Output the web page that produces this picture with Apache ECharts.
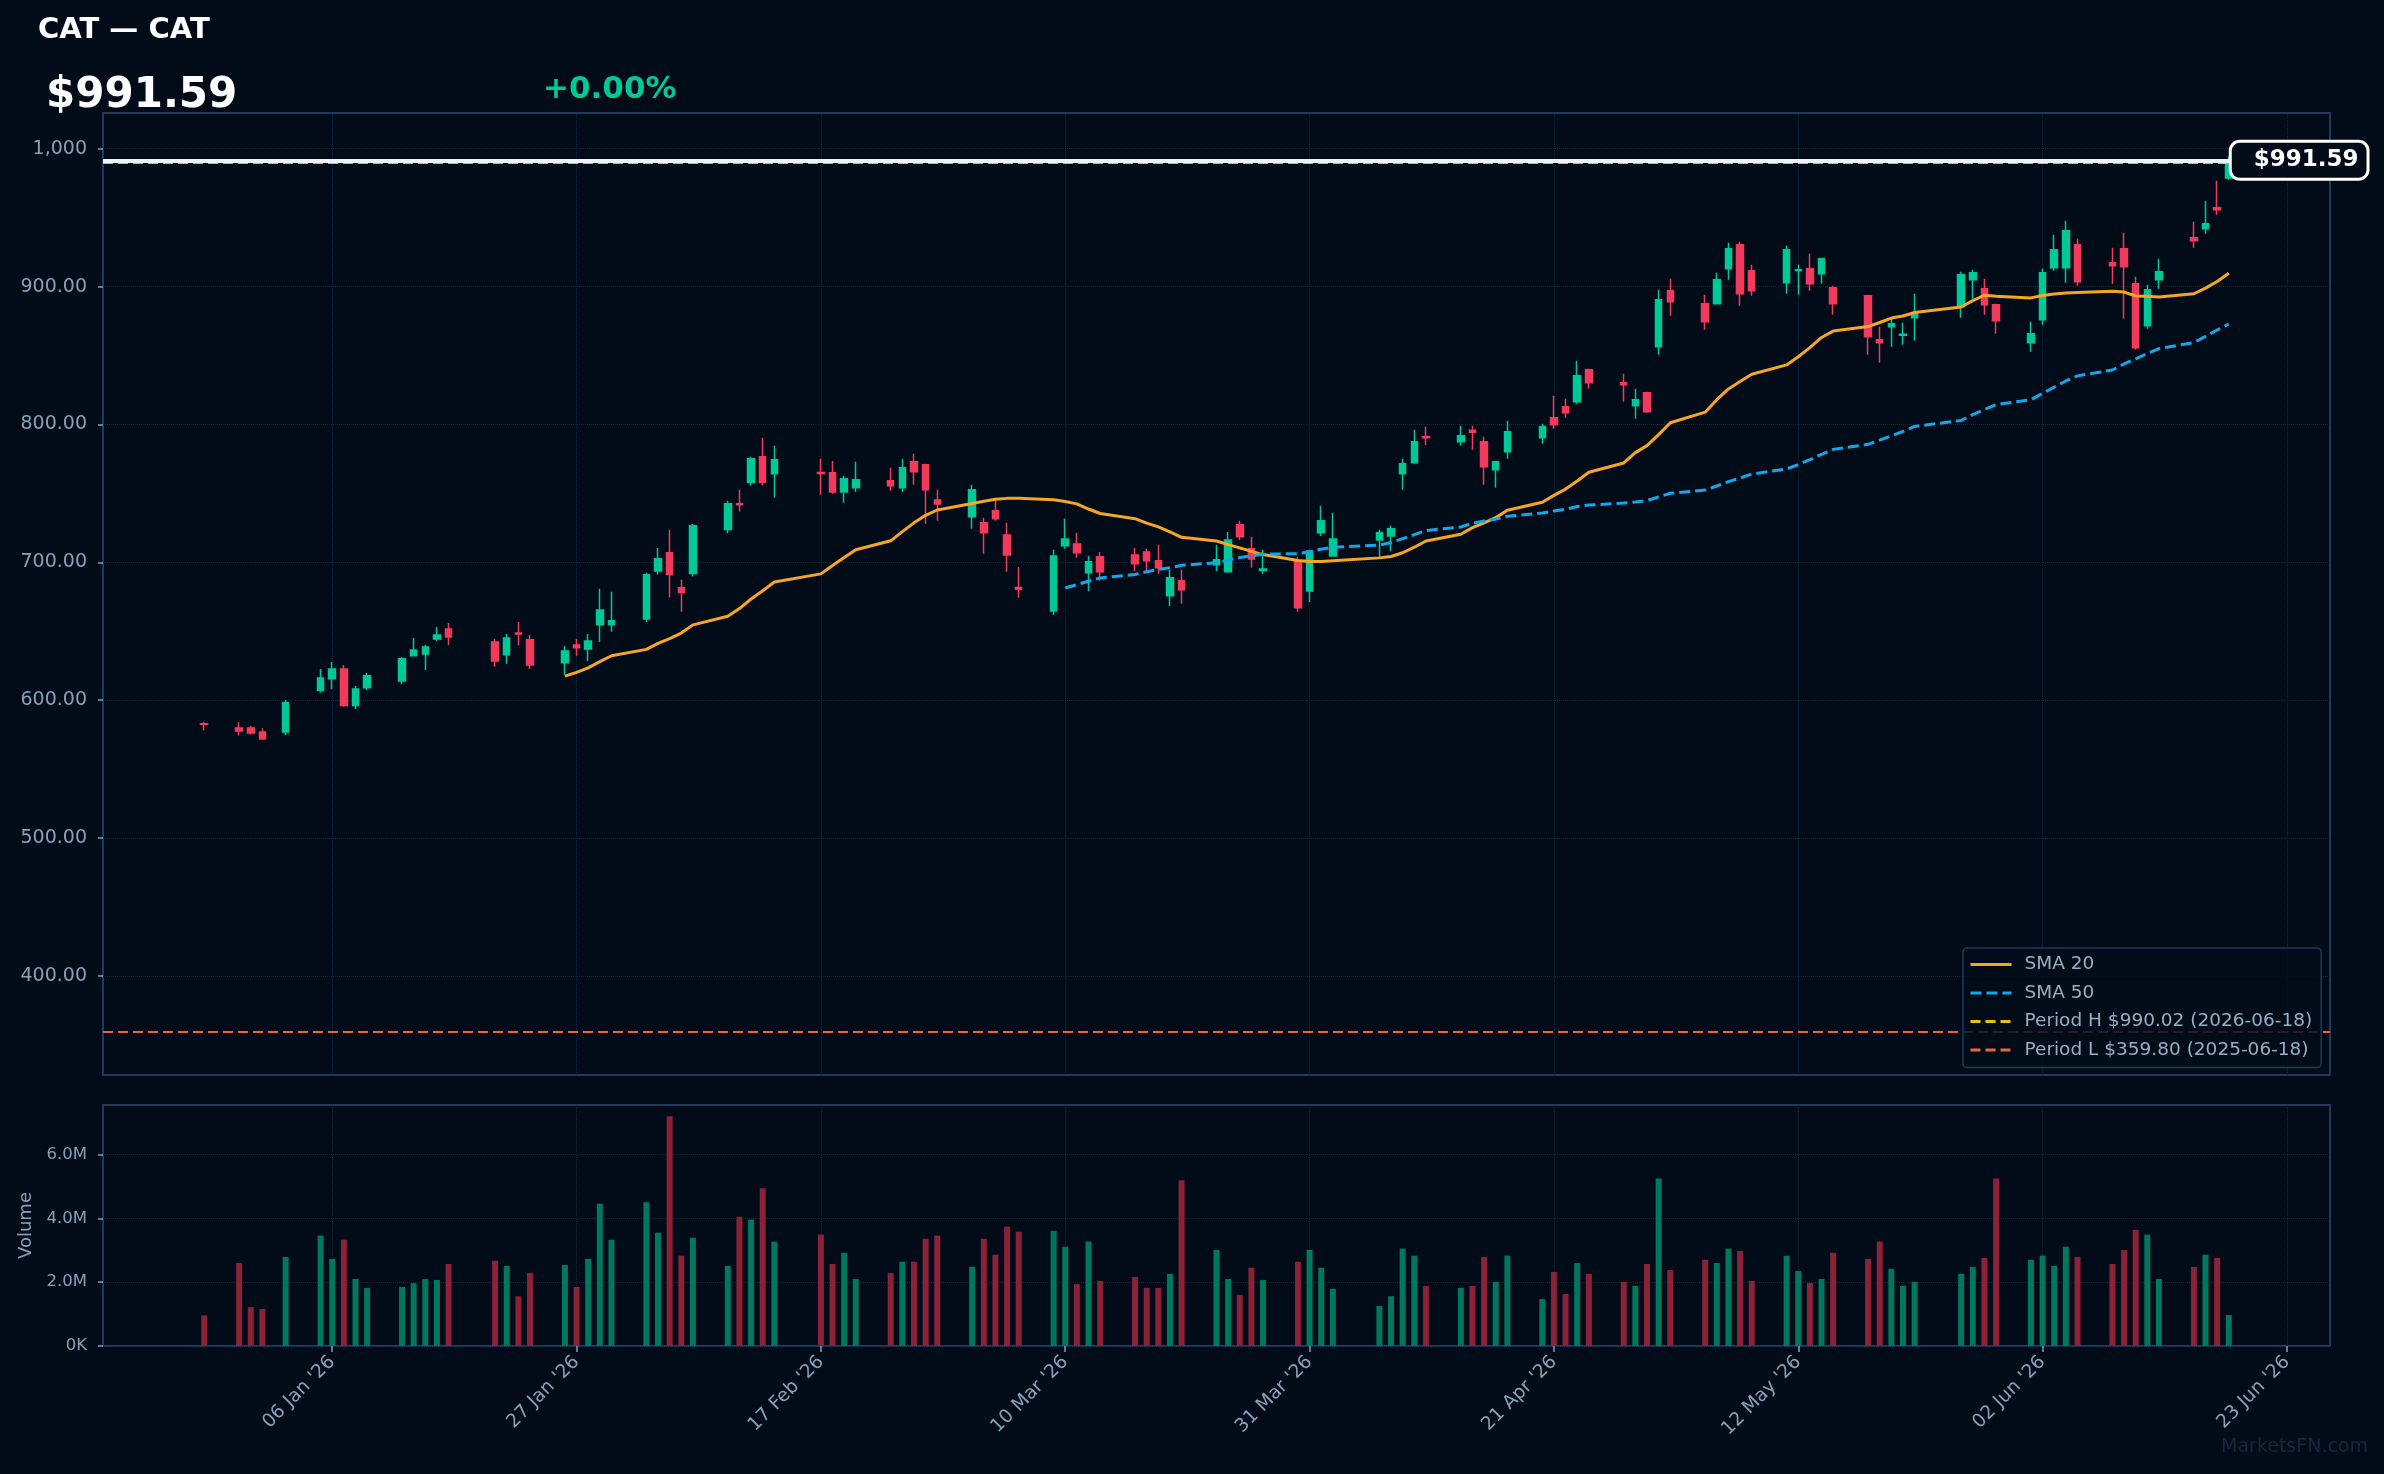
<!DOCTYPE html>
<html>
<head>
<meta charset="utf-8">
<script src="https://cdn.jsdelivr.net/npm/echarts@6/dist/echarts.min.js"></script>
<style>
html,body{margin:0;padding:0;background:#020c18;}
#chart{width:2384px;height:1474px;}
</style>
</head>
<body>
<div id="chart"></div>
<script>
// ---------------- data ----------------
const ticker = 'CAT';
const dates = [
'2025-12-26','2025-12-29','2025-12-30','2025-12-31','2026-01-02','2026-01-05','2026-01-06','2026-01-07','2026-01-08','2026-01-09',
'2026-01-12','2026-01-13','2026-01-14','2026-01-15','2026-01-16','2026-01-20','2026-01-21','2026-01-22','2026-01-23','2026-01-26',
'2026-01-27','2026-01-28','2026-01-29','2026-01-30','2026-02-02','2026-02-03','2026-02-04','2026-02-05','2026-02-06','2026-02-09',
'2026-02-10','2026-02-11','2026-02-12','2026-02-13','2026-02-17','2026-02-18','2026-02-19','2026-02-20','2026-02-23','2026-02-24',
'2026-02-25','2026-02-26','2026-02-27','2026-03-02','2026-03-03','2026-03-04','2026-03-05','2026-03-06','2026-03-09','2026-03-10',
'2026-03-11','2026-03-12','2026-03-13','2026-03-16','2026-03-17','2026-03-18','2026-03-19','2026-03-20','2026-03-23','2026-03-24',
'2026-03-25','2026-03-26','2026-03-27','2026-03-30','2026-03-31','2026-04-01','2026-04-02','2026-04-06','2026-04-07','2026-04-08',
'2026-04-09','2026-04-10','2026-04-13','2026-04-14','2026-04-15','2026-04-16','2026-04-17','2026-04-20','2026-04-21','2026-04-22',
'2026-04-23','2026-04-24','2026-04-27','2026-04-28','2026-04-29','2026-04-30','2026-05-01','2026-05-04','2026-05-05','2026-05-06',
'2026-05-07','2026-05-08','2026-05-11','2026-05-12','2026-05-13','2026-05-14','2026-05-15','2026-05-18','2026-05-19','2026-05-20',
'2026-05-21','2026-05-22','2026-05-26','2026-05-27','2026-05-28','2026-05-29','2026-06-01','2026-06-02','2026-06-03','2026-06-04',
'2026-06-05','2026-06-08','2026-06-09','2026-06-10','2026-06-11','2026-06-12','2026-06-15','2026-06-16','2026-06-17','2026-06-18'
];
const opens = [
583.0,579.9,579.9,577.0,577.0,607.0,615.5,622.7,596.1,609.0,
614.0,632.2,633.6,644.5,651.7,642.3,632.9,648.8,643.8,627.1,
640.1,637.2,654.7,654.7,659.0,693.8,706.9,681.5,691.9,723.8,
742.5,757.9,776.6,764.2,765.2,764.9,751.1,754.1,759.1,754.1,
772.9,770.7,745.3,733.0,728.7,737.4,719.9,681.8,664.8,712.0,
713.4,692.4,704.0,705.4,707.6,701.1,675.7,686.6,698.2,693.1,
727.2,709.8,694.1,700.4,679.3,721.4,704.7,716.3,719.2,764.2,
772.2,791.1,787.4,795.9,787.4,767.1,780.2,790.3,804.8,812.8,
816.4,839.7,830.2,813.5,823.0,856.3,897.0,887.5,887.5,913.0,
930.3,911.5,902.8,911.7,913.0,909.3,899.2,893.3,861.4,870.9,
864.8,877.4,885.4,905.0,898.4,886.8,859.2,875.9,913.7,913.7,
930.3,917.3,927.4,902.0,871.6,905.0,935.4,942.0,957.2,978.7
];
const highs = [
584.2,584.0,581.4,579.7,600.2,622.7,627.8,625.6,610.4,619.8,
631.4,645.2,640.1,653.2,656.1,644.5,648.1,656.8,647.4,639.4,
644.5,648.1,680.8,678.6,692.4,710.5,723.6,687.3,727.9,744.6,
752.6,776.6,790.3,784.5,775.1,773.6,762.8,772.9,768.6,775.1,
778.7,771.5,752.6,756.2,732.3,745.3,728.7,696.7,709.1,731.6,
721.4,704.7,707.6,710.5,709.8,712.7,694.6,694.6,712.7,722.1,
730.1,718.5,709.1,703.8,709.1,741.0,735.9,723.6,726.5,775.1,
796.1,798.3,799.0,799.0,791.1,773.6,802.7,800.5,820.8,818.6,
846.2,840.4,836.8,825.9,823.7,897.7,905.7,894.1,910.0,931.8,
932.5,915.8,929.6,915.8,923.8,920.9,900.6,894.1,870.9,877.4,
873.7,894.8,910.8,912.2,905.7,887.5,874.5,912.9,937.6,947.8,
934.7,928.2,939.1,907.1,901.3,920.2,947.1,962.3,976.8,994.5
];
const lows = [
578.0,574.4,575.1,571.5,574.8,605.6,608.2,595.2,593.7,607.5,
611.8,631.8,622.0,643.0,640.1,624.2,626.4,640.1,622.7,618.4,
632.2,628.5,642.3,649.6,656.8,691.2,674.5,664.1,689.7,720.9,
736.9,755.8,755.8,746.8,749.0,749.7,743.2,751.1,751.9,751.1,
756.2,727.9,730.1,724.3,706.2,730.1,693.1,674.3,661.9,709.8,
703.3,679.3,686.6,693.8,692.4,691.7,668.4,669.9,693.8,692.4,
716.3,696.0,691.7,664.1,671.3,719.2,704.0,704.0,708.3,752.6,
771.5,785.2,784.5,781.6,756.2,754.1,775.1,786.0,796.9,804.8,
815.0,825.9,816.4,804.1,808.5,850.5,878.8,868.7,887.0,905.0,
886.1,893.3,894.8,894.1,897.0,902.0,879.6,850.5,844.7,856.3,
857.8,860.7,877.4,891.2,879.6,865.8,852.7,872.3,911.5,902.8,
900.6,902.0,876.7,854.2,869.4,898.4,928.2,938.3,952.1,977.5
];
const closes = [
582.5,577.7,576.3,571.9,598.1,616.2,622.7,596.1,608.2,617.7,
630.0,636.5,638.7,647.4,645.9,628.5,645.2,648.1,625.6,635.8,
638.0,643.0,665.5,657.6,691.0,702.6,691.2,678.1,726.5,742.5,
741.7,775.1,757.9,774.4,764.5,751.1,760.6,759.9,755.5,768.6,
765.7,752.6,742.4,752.6,721.4,731.6,705.4,680.5,704.7,717.0,
706.9,700.4,693.1,698.9,701.1,696.0,688.8,680.1,701.8,716.3,
718.5,702.5,695.1,667.0,708.3,730.1,717.0,721.4,724.3,771.5,
787.4,790.3,791.8,794.4,769.3,772.9,794.7,798.3,799.8,808.5,
835.3,830.2,828.8,817.9,809.2,890.4,889.0,874.5,905.0,927.4,
894.8,897.0,926.7,912.2,902.0,920.2,887.5,863.6,859.2,873.0,
865.5,881.0,908.6,910.0,886.8,875.2,865.8,910.0,926.7,940.5,
903.5,915.1,914.4,855.6,897.7,910.8,933.3,945.6,955.8,991.59
];
const volumesM = [
0.96,2.60,1.22,1.16,2.79,3.46,2.73,3.33,2.10,1.82,
1.85,1.97,2.10,2.07,2.57,2.67,2.51,1.56,2.29,2.54,
1.85,2.73,4.46,3.33,4.50,3.55,7.20,2.83,3.39,2.51,
4.05,3.96,4.94,3.27,3.49,2.57,2.92,2.10,2.29,2.64,
2.64,3.36,3.46,2.48,3.36,2.86,3.74,3.58,3.61,3.11,
1.94,3.27,2.04,2.16,1.82,1.82,2.26,5.19,3.01,2.10,
1.60,2.45,2.07,2.64,3.01,2.45,1.79,1.25,1.56,3.05,
2.83,1.88,1.82,1.88,2.79,2.01,2.83,1.47,2.32,1.63,
2.60,2.26,2.01,1.88,2.57,5.25,2.38,2.70,2.60,3.05,
2.98,2.04,2.83,2.35,1.97,2.10,2.92,2.73,3.27,2.42,
1.88,2.01,2.26,2.48,2.76,5.25,2.70,2.83,2.51,3.11,
2.79,2.57,3.01,3.64,3.49,2.10,2.48,2.86,2.76,0.97
];
const xTickDates = ['2026-01-06','2026-01-27','2026-02-17','2026-03-10','2026-03-31','2026-04-21','2026-05-12','2026-06-02','2026-06-23'];
const priceTicks = [400, 500, 600, 700, 800, 900, 1000];
const volumeTicks = [0, 2, 4, 6];
const lastPrice = 991.59;
const changePct = 0.00;
const periodHigh = 990.02, periodHighDate = '2026-06-18';
const periodLow = 359.80, periodLowDate = '2025-06-18';

// ---------------- helpers ----------------
const MONTHS = ['Jan','Feb','Mar','Apr','May','Jun','Jul','Aug','Sep','Oct','Nov','Dec'];
const ts = s => { const p = s.split('-').map(Number); return Date.UTC(p[0], p[1]-1, p[2]); };
const fmtDate = v => { const d = new Date(v); return String(d.getUTCDate()).padStart(2,'0') + ' ' + MONTHS[d.getUTCMonth()] + " '" + String(d.getUTCFullYear()).slice(2); };
const t0 = ts(dates[0]), t1 = ts(dates[dates.length-1]);
const xPad = (t1 - t0) * 0.05;
const xMin = t0 - xPad, xMax = t1 + xPad;
const xTickTs = xTickDates.map(ts);

function sma(n) {
  const out = [];
  for (let i = n - 1; i < closes.length; i++) {
    let s = 0;
    for (let j = i - n + 1; j <= i; j++) s += closes[j];
    out.push([ts(dates[i]), +(s / n).toFixed(3)]);
  }
  return out;
}

const UP = '#00c896', DOWN = '#f23a5c';
const VUP = '#00785e', VDOWN = '#8c2238';
const GRIDC = '#16273a', BORDER = '#1e3a5c', TICKC = '#8aa0b8';
const C20 = '#f5a623', C50 = '#12a7e8', CH = '#e6c200', CL = '#e8643c';
const FONT = 'DejaVu Sans';
const CLEAR = 'rgba(0,0,0,0)';

const candleData = dates.map((d, i) => [ts(d), opens[i], closes[i], lows[i], highs[i]]);
const volData = dates.map((d, i) => ({ value: [ts(d), volumesM[i]], itemStyle: { color: closes[i] >= opens[i] ? VUP : VDOWN } }));
const nameH = 'Period H $' + periodHigh.toFixed(2) + ' (' + periodHighDate + ')';
const nameL = 'Period L $' + periodLow.toFixed(2) + ' (' + periodLowDate + ')';

const chart = echarts.init(document.getElementById('chart'), null, { renderer: 'canvas' });
const option = {
  animation: false,
  backgroundColor: '#020c18',
  textStyle: { fontFamily: FONT },
  title: [
    { text: ticker + ' — ' + ticker, left: 38, top: 16, padding: 0, textStyle: { color: '#ffffff', fontSize: 29, fontWeight: 'bold', fontFamily: FONT } },
    { text: '$' + lastPrice.toFixed(2), left: 46, top: 75, padding: 0, textStyle: { color: '#ffffff', fontSize: 42, fontWeight: 'bold', fontFamily: FONT } },
    { text: (changePct >= 0 ? '+' : '') + changePct.toFixed(2) + '%', left: 543, top: 74, padding: 0, textStyle: { color: UP, fontSize: 31, fontWeight: 'bold', fontFamily: FONT } }
  ],
  graphic: [
    { type: 'text', right: 16, top: 1438, z: 0, style: { text: 'MarketsFN.com', fill: '#16283c', font: '19px "DejaVu Sans"' } }
  ],
  legend: {
    data: ['SMA 20', 'SMA 50', nameH, nameL],
    orient: 'vertical', left: 1963, top: 948,
    padding: [7, 9, 8, 6], itemWidth: 41, itemHeight: 19, itemGap: 9.5,
    backgroundColor: 'rgba(2,12,24,0.82)', borderColor: BORDER, borderWidth: 1.5, borderRadius: 4,
    lineStyle: { width: 3 },
    itemStyle: { color: CLEAR, borderColor: CLEAR, borderWidth: 0, opacity: 0 },
    textStyle: { color: '#98aec4', fontSize: 18.5, fontFamily: FONT, padding: [0, 0, 0, 8] },
    selectedMode: false, z: 10
  },
  grid: [
    { left: 103, right: 54, top: 113, height: 962, show: true, borderColor: BORDER, borderWidth: 2, backgroundColor: 'transparent' },
    { left: 103, right: 54, top: 1105, height: 241, show: true, borderColor: BORDER, borderWidth: 2, backgroundColor: 'transparent' }
  ],
  xAxis: [
    { type: 'value', gridIndex: 0, min: xMin, max: xMax, axisLine: { show: false }, axisTick: { show: false }, axisLabel: { show: false }, splitLine: { show: false } },
    { type: 'value', gridIndex: 1, min: xMin, max: xMax, axisLine: { show: false },
      axisTick: { show: true, customValues: xTickTs, length: 6, lineStyle: { color: TICKC, width: 1.5 } },
      axisLabel: { show: true, customValues: xTickTs, rotate: 45, margin: 13, color: TICKC, fontSize: 18.75, fontFamily: FONT, formatter: v => fmtDate(v) },
      splitLine: { show: false } }
  ],
  yAxis: [
    { type: 'value', gridIndex: 0, min: 328.2, max: 1025.9, axisLine: { show: false },
      axisTick: { show: true, customValues: priceTicks, length: 5, lineStyle: { color: TICKC, width: 1.5 } },
      axisLabel: { customValues: priceTicks, color: TICKC, fontSize: 19, fontFamily: FONT, margin: 16,
        formatter: v => v >= 1000 ? Number(v).toLocaleString('en-US') : Number(v).toFixed(2) },
      splitLine: { show: false } },
    { type: 'value', gridIndex: 1, min: 0, max: 7.55, interval: 2, axisLine: { show: false },
      name: 'Volume', nameLocation: 'middle', nameGap: 64, nameTextStyle: { color: TICKC, fontSize: 18, fontFamily: FONT },
      axisTick: { show: true, customValues: volumeTicks, length: 5, lineStyle: { color: TICKC, width: 1.5 } },
      axisLabel: { customValues: volumeTicks, color: TICKC, fontSize: 16.5, fontFamily: FONT, margin: 16,
        formatter: v => v === 0 ? '0K' : v.toFixed(1) + 'M' },
      splitLine: { show: true, lineStyle: { color: GRIDC, type: 'dotted', width: 1 } } }
  ],
  series: [
    { name: '_gridPrice', type: 'line', xAxisIndex: 0, yAxisIndex: 0, data: [], silent: true,
      markLine: { silent: true, z: 1, symbol: ['none', 'none'], label: { show: false },
        lineStyle: { color: GRIDC, type: 'dotted', width: 1 },
        data: priceTicks.map(v => ({ yAxis: v })).concat(xTickTs.map(t => ({ xAxis: t }))) } },
    { name: '_gridVol', type: 'line', xAxisIndex: 1, yAxisIndex: 1, data: [], silent: true,
      markLine: { silent: true, z: 1, symbol: ['none', 'none'], label: { show: false },
        lineStyle: { color: GRIDC, type: 'dotted', width: 1 },
        data: xTickTs.map(t => ({ xAxis: t })) } },
    { name: ticker, type: 'candlestick', xAxisIndex: 0, yAxisIndex: 0, data: candleData,
      encode: { x: 0, y: [1, 2, 3, 4] }, barWidth: 7, z: 3,
      itemStyle: { color: UP, color0: DOWN, borderColor: UP, borderColor0: DOWN, borderWidth: 1.5 } },
    { name: 'Volume', type: 'bar', xAxisIndex: 1, yAxisIndex: 1, data: volData, barWidth: 6 },
    { name: 'SMA 20', type: 'line', xAxisIndex: 0, yAxisIndex: 0, data: sma(20), symbol: 'none', z: 4,
      lineStyle: { color: C20, width: 3 }, itemStyle: { color: C20 } },
    { name: 'SMA 50', type: 'line', xAxisIndex: 0, yAxisIndex: 0, data: sma(50), symbol: 'none', z: 4,
      lineStyle: { color: C50, width: 3, type: [11, 5] }, itemStyle: { color: C50 } },
    { name: nameH, type: 'line', xAxisIndex: 0, yAxisIndex: 0, data: [], symbol: 'none',
      lineStyle: { color: CH, width: 2, type: [10, 5] }, itemStyle: { color: CH },
      markLine: { silent: true, z: 5, symbol: ['none', 'none'], label: { show: false },
        lineStyle: { color: CH, width: 2, type: [10, 5] }, data: [{ yAxis: periodHigh }] } },
    { name: nameL, type: 'line', xAxisIndex: 0, yAxisIndex: 0, data: [], symbol: 'none',
      lineStyle: { color: CL, width: 2, type: [10, 5] }, itemStyle: { color: CL },
      markLine: { silent: true, z: 5, symbol: ['none', 'none'], label: { show: false },
        lineStyle: { color: CL, width: 2, type: [10, 5] }, data: [{ yAxis: periodLow }] } },
    { name: '_last', type: 'line', xAxisIndex: 0, yAxisIndex: 0, data: [], symbol: 'none',
      markLine: { silent: true, z: 6, symbol: ['none', 'none'], label: { show: false },
        lineStyle: { color: '#eef1f4', width: 4, type: 'solid' }, data: [{ yAxis: lastPrice }] },
      markPoint: { silent: true, z: 20, symbol: 'rect', symbolSize: 0,
        data: [{ coord: [t1, lastPrice] }],
        label: { show: true, position: 'right', distance: 3, formatter: '$' + lastPrice.toFixed(2),
          color: '#ffffff', fontSize: 23, fontWeight: 'bold', fontFamily: FONT, lineHeight: 25,
          backgroundColor: '#020c18', borderColor: '#ffffff', borderWidth: 3, borderRadius: 8,
          padding: [5, 8, 5, 22] } } }
  ]
};
chart.setOption(option);
</script>
</body>
</html>
